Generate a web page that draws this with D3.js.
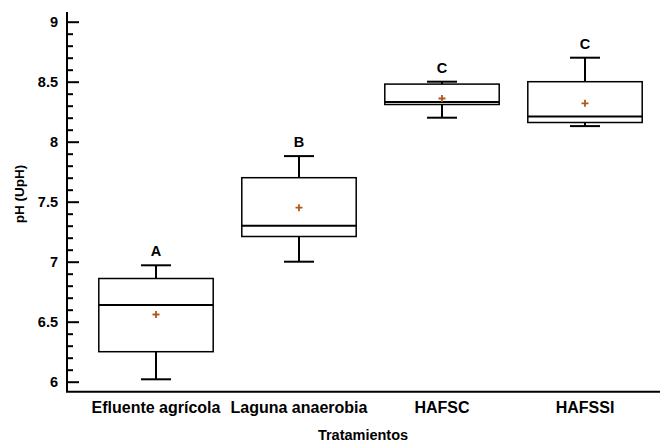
<!DOCTYPE html>
<html>
<head>
<meta charset="utf-8">
<script src="https://cdn.jsdelivr.net/npm/d3@7"></script>
<style>
  body { margin: 0; background: #fff; }
  svg text { font-family: "Liberation Sans", Arial, sans-serif; font-weight: bold; fill: #000; }
</style>
</head>
<body>
<div id="viz"></div>
<script>
// Box statistics
const categories = ["Efluente agrícola", "Laguna anaerobia", "HAFSC", "HAFSSI"];
const minVals    = [6.02, 7.00, 8.20, 8.13];
const q1Vals     = [6.25, 7.21, 8.31, 8.16];
const medianVals = [6.64, 7.30, 8.33, 8.21];
const q3Vals     = [6.86, 7.70, 8.48, 8.50];
const maxVals    = [6.97, 7.88, 8.50, 8.70];
const meanVals   = [6.56, 7.45, 8.36, 8.32];
const groupLetters = ["A", "B", "C", "C"];
const yTicks = [6, 6.5, 7, 7.5, 8, 8.5, 9];

const width = 665;
const height = 442;

const svg = d3.select("#viz")
  .append("svg")
  .attr("width", width)
  .attr("height", height);

const y = d3.scaleLinear().domain([6, 9]).range([381.7, 21.7]);
const x = d3.scaleBand()
  .domain(categories)
  .range([84.5, 656.5])
  .paddingInner(0.2)
  .paddingOuter(0.1);

const axisX = 67;
const axisY = 391.7;

// y axis: ticks pointing inward
const yAxis = d3.axisRight(y)
  .tickValues(d3.range(60, 91).map(d => d / 10))
  .tickSize(0)
  .tickFormat("");

const gy = svg.append("g").attr("transform", `translate(${axisX},0)`);
gy.call(yAxis);
gy.select(".domain").remove();
gy.selectAll(".tick line")
  .attr("x2", d => (Math.abs(d * 2 - Math.round(d * 2)) < 1e-6 ? 12 : 6))
  .attr("stroke", "#000")
  .attr("stroke-width", 2);

svg.append("g")
  .selectAll("text")
  .data(yTicks)
  .enter().append("text")
  .attr("x", 58)
  .attr("y", d => y(d))
  .attr("dy", "0.36em")
  .attr("text-anchor", "end")
  .attr("font-size", 14.5)
  .text(d => d);

// axis lines
svg.append("path")
  .attr("d", `M${axisX},12V${axisY}H660`)
  .attr("fill", "none")
  .attr("stroke", "#000")
  .attr("stroke-width", 2);

// category labels
svg.append("g")
  .selectAll("text")
  .data(categories)
  .enter().append("text")
  .attr("x", d => x(d) + x.bandwidth() / 2)
  .attr("y", 413)
  .attr("text-anchor", "middle")
  .attr("font-size", 16)
  .text(d => d);

svg.append("text")
  .attr("x", 363)
  .attr("y", 440)
  .attr("text-anchor", "middle")
  .attr("font-size", 14.5)
  .text("Tratamientos");

svg.append("text")
  .attr("transform", "translate(24,194) rotate(-90)")
  .attr("text-anchor", "middle")
  .attr("font-size", 13.5)
  .text("pH (UpH)");

// boxes
const boxes = categories.map((c, i) => ({
  cat: c, min: minVals[i], q1: q1Vals[i], med: medianVals[i],
  q3: q3Vals[i], max: maxVals[i], mean: meanVals[i], letter: groupLetters[i]
}));

const box = svg.append("g")
  .selectAll("g")
  .data(boxes)
  .enter().append("g");

const cx = d => x(d.cat) + x.bandwidth() / 2;
const capW = 30;

box.append("line")
  .attr("x1", cx).attr("x2", cx)
  .attr("y1", d => y(d.max)).attr("y2", d => y(d.q3))
  .attr("stroke", "#000").attr("stroke-width", 2);
box.append("line")
  .attr("x1", cx).attr("x2", cx)
  .attr("y1", d => y(d.q1)).attr("y2", d => y(d.min))
  .attr("stroke", "#000").attr("stroke-width", 2);
box.append("line")
  .attr("x1", d => cx(d) - capW / 2).attr("x2", d => cx(d) + capW / 2)
  .attr("y1", d => y(d.max)).attr("y2", d => y(d.max))
  .attr("stroke", "#000").attr("stroke-width", 2);
box.append("line")
  .attr("x1", d => cx(d) - capW / 2).attr("x2", d => cx(d) + capW / 2)
  .attr("y1", d => y(d.min)).attr("y2", d => y(d.min))
  .attr("stroke", "#000").attr("stroke-width", 2);

box.append("rect")
  .attr("x", d => x(d.cat))
  .attr("y", d => y(d.q3))
  .attr("width", x.bandwidth())
  .attr("height", d => y(d.q1) - y(d.q3))
  .attr("fill", "#fff")
  .attr("stroke", "#000")
  .attr("stroke-width", 1.5);

box.append("line")
  .attr("x1", d => x(d.cat)).attr("x2", d => x(d.cat) + x.bandwidth())
  .attr("y1", d => y(d.med)).attr("y2", d => y(d.med))
  .attr("stroke", "#000").attr("stroke-width", 2);

// mean markers
box.append("path")
  .attr("d", d => `M${cx(d) - 3.5},${y(d.mean)}h7M${cx(d)},${y(d.mean) - 3.5}v7`)
  .attr("stroke", "#b4561e")
  .attr("stroke-width", 1.8);

box.append("text")
  .attr("x", cx)
  .attr("y", d => y(d.max) - 9)
  .attr("text-anchor", "middle")
  .attr("font-size", 14.5)
  .text(d => d.letter);
</script>
</body>
</html>
